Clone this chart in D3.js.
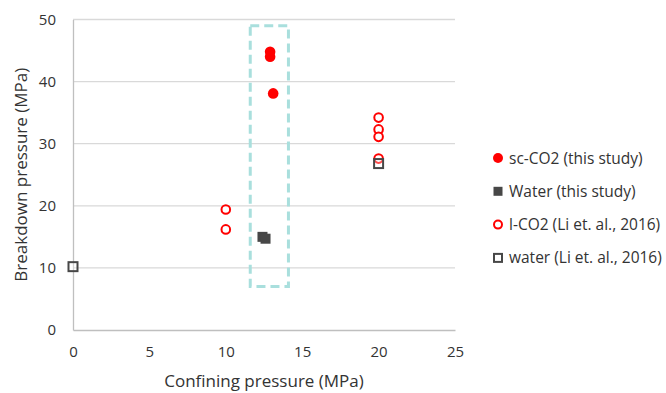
<!DOCTYPE html>
<html>
<head>
<meta charset="utf-8">
<script src="https://cdn.jsdelivr.net/npm/d3@7"></script>
<style>
  body { margin: 0; background: #fff; }
  text { font-family: "Open Sans", "Noto Sans", sans-serif; }
</style>
</head>
<body>
<div id="chart"></div>
<script>
// data
var scCO2 = [{x: 12.9, y: 44.8}, {x: 12.9, y: 44.0}, {x: 13.1, y: 38.1}];
var waterStudy = [{x: 12.4, y: 15.0}, {x: 12.6, y: 14.7}];
var lCO2 = [{x: 10, y: 19.4}, {x: 10, y: 16.2}, {x: 20, y: 34.2}, {x: 20, y: 32.3}, {x: 20, y: 31.1}, {x: 20, y: 27.6}];
var waterLi = [{x: 0, y: 10.2}, {x: 20, y: 26.8}];
var xTicks = [0, 5, 10, 15, 20, 25];
var yTicks = [0, 10, 20, 30, 40, 50];
var boxRange = {x0: 11.6, x1: 14.1, y0: 7.0, y1: 49.0};
var legendLabels = ["sc-CO2 (this study)", "Water (this study)", "l-CO2 (Li et. al., 2016)", "water (Li et. al., 2016)"];

var width = 666, height = 393;
var margin = {top: 19.5, left: 73, right: 211, bottom: 63};

var svg = d3.select("#chart").append("svg")
    .attr("width", width)
    .attr("height", height);

var x = d3.scaleLinear().domain([0, 25]).range([margin.left, width - margin.right]);
var y = d3.scaleLinear().domain([0, 50]).range([height - margin.bottom, margin.top]);

// gridlines
svg.append("g")
  .selectAll("line")
  .data(yTicks.filter(function(d) { return d > 0; }))
  .enter().append("line")
    .attr("x1", x(0)).attr("x2", x(25))
    .attr("y1", function(d) { return y(d); })
    .attr("y2", function(d) { return y(d); })
    .style("stroke", "#d9d9d9").style("stroke-width", 1.3);

// axes
var xAxis = svg.append("g")
  .attr("transform", "translate(0," + y(0) + ")")
  .call(d3.axisBottom(x).tickValues(xTicks).tickSize(0).tickPadding(16));
var yAxis = svg.append("g")
  .attr("transform", "translate(" + x(0) + ",0)")
  .call(d3.axisLeft(y).tickValues(yTicks).tickSize(0).tickPadding(17));
[xAxis, yAxis].forEach(function(a) {
  a.select(".domain").style("stroke", "#bfbfbf").style("stroke-width", 1.3);
  a.selectAll("text").style("font-size", "15px").style("fill", "#333")
    .style("font-family", "'Open Sans', sans-serif");
});

// dashed highlight box
svg.append("rect")
  .attr("x", x(boxRange.x0))
  .attr("y", y(boxRange.y1))
  .attr("width", x(boxRange.x1) - x(boxRange.x0))
  .attr("height", y(boxRange.y0) - y(boxRange.y1))
  .style("fill", "none")
  .style("stroke", "#a9dfdd")
  .style("stroke-width", 3)
  .style("stroke-dasharray", "9,5");

// series
var red = "#ff0000", dark = "#474747";

svg.append("g").selectAll("circle")
  .data(lCO2).enter().append("circle")
    .attr("cx", function(d) { return x(d.x); })
    .attr("cy", function(d) { return y(d.y); })
    .attr("r", 4.3)
    .style("fill", "#fff").style("stroke", red).style("stroke-width", 2);

svg.append("g").selectAll("rect")
  .data(waterLi).enter().append("rect")
    .attr("x", function(d) { return x(d.x) - 4.5; })
    .attr("y", function(d) { return y(d.y) - 4.5; })
    .attr("width", 9).attr("height", 9)
    .style("fill", "#fff").style("fill-opacity", 0.3).style("stroke", dark).style("stroke-width", 2);

svg.append("g").selectAll("rect")
  .data(waterStudy).enter().append("rect")
    .attr("x", function(d) { return x(d.x) - 5; })
    .attr("y", function(d) { return y(d.y) - 5; })
    .attr("width", 10).attr("height", 10)
    .style("fill", dark);

svg.append("g").selectAll("circle")
  .data(scCO2).enter().append("circle")
    .attr("cx", function(d) { return x(d.x); })
    .attr("cy", function(d) { return y(d.y); })
    .attr("r", 5.3)
    .style("fill", red);

// axis titles
svg.append("text")
  .attr("x", 264).attr("y", 387)
  .attr("text-anchor", "middle")
  .style("font-size", "17px").style("fill", "#333")
  .text("Confining pressure (MPa)");
svg.append("text")
  .attr("transform", "translate(27," + (y(25)) + ") rotate(-90)")
  .attr("text-anchor", "middle")
  .style("font-size", "17px").style("fill", "#333")
  .text("Breakdown pressure (MPa)");

// legend
var legend = svg.append("g").selectAll("g")
  .data(legendLabels).enter().append("g")
    .attr("transform", function(d, i) { return "translate(498," + (158 + i * 33.3) + ")"; });
legend.append("text")
  .attr("x", 11).attr("y", 5.5)
  .style("font-size", "15.5px").style("fill", "#333")
  .text(function(d) { return d; });
legend.filter(function(d, i) { return i == 0; }).append("circle")
  .attr("r", 5).style("fill", red);
legend.filter(function(d, i) { return i == 1; }).append("rect")
  .attr("x", -4.5).attr("y", -4.5).attr("width", 9).attr("height", 9).style("fill", dark);
legend.filter(function(d, i) { return i == 2; }).append("circle")
  .attr("r", 4).style("fill", "#fff").style("stroke", red).style("stroke-width", 2);
legend.filter(function(d, i) { return i == 3; }).append("rect")
  .attr("x", -4).attr("y", -4).attr("width", 8).attr("height", 8)
  .style("fill", "#fff").style("stroke", dark).style("stroke-width", 2);
</script>
</body>
</html>
